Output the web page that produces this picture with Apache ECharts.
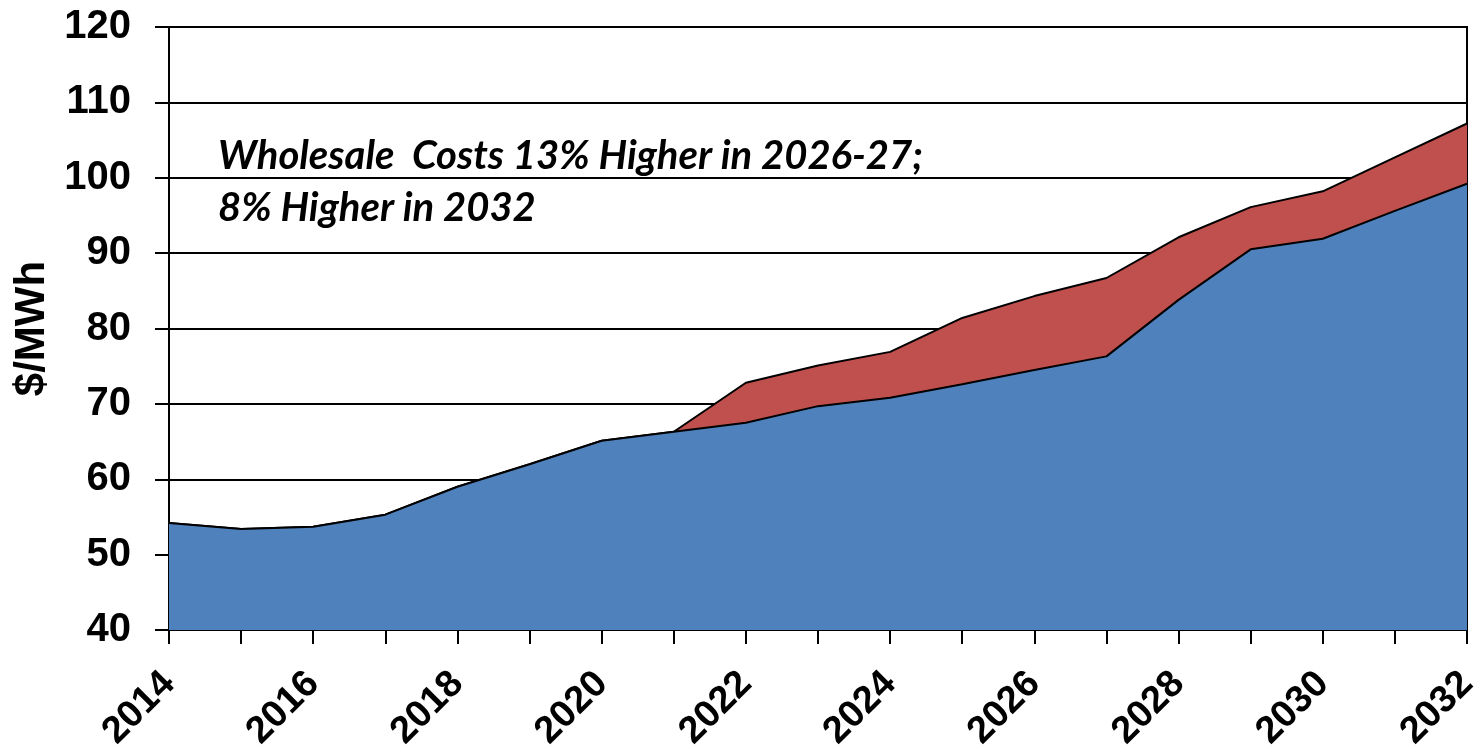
<!DOCTYPE html>
<html>
<head>
<meta charset="utf-8">
<script src="https://cdn.jsdelivr.net/npm/echarts@6/dist/echarts.min.js"></script>
<style>
  html, body { margin: 0; padding: 0; background: #fff; }
  #chart { width: 1479px; height: 751px; }
</style>
</head>
<body>
<div id="chart"></div>
<script>
// Years on the horizontal axis
const years = ['2014','2015','2016','2017','2018','2019','2020','2021','2022','2023',
               '2024','2025','2026','2027','2028','2029','2030','2031','2032'];

// Base wholesale cost, $/MWh
const baseCost = [54.2, 53.4, 53.7, 55.3, 59.0, 62.0, 65.1, 66.3, 67.5, 69.7,
                  70.8, 72.6, 74.5, 76.3, 83.8, 90.5, 91.9, 95.6, 99.2];

// Higher-cost case, $/MWh (same as base through 2021)
const higherCost = [54.2, 53.4, 53.7, 55.3, 59.0, 62.0, 65.1, 66.3, 72.8, 75.1,
                    76.9, 81.4, 84.3, 86.7, 92.1, 96.1, 98.2, 102.7, 107.2];

const yMin = 40, yMax = 120, yStep = 10;
const noteLines = ['Wholesale  Costs 13% Higher in 2026-27;', '8% Higher in 2032'];

const chart = echarts.init(document.getElementById('chart'));
const labelFont = { fontFamily: 'Liberation Sans, Arial, sans-serif', fontWeight: 'bold', color: '#000' };
const noteFont = 'italic bold 40px Lato, "Open Sans", sans-serif';

chart.setOption({
  animation: false,
  backgroundColor: '#fff',
  grid: {
    left: 169, right: 12, top: 27, bottom: 121,
    outerBoundsMode: 'none', containLabel: false,
    show: true, borderColor: '#000', borderWidth: 2, backgroundColor: 'transparent'
  },
  xAxis: {
    type: 'category',
    data: years,
    boundaryGap: false,
    axisLine: { lineStyle: { color: '#000', width: 2 } },
    axisTick: { show: true, interval: 0, length: 14, lineStyle: { color: '#000', width: 2 } },
    axisLabel: Object.assign({ interval: 1, rotate: 45, fontSize: 38, margin: 48 }, labelFont),
    splitLine: { show: false }
  },
  yAxis: {
    type: 'value',
    min: yMin, max: yMax, interval: yStep,
    name: '$/MWh',
    nameLocation: 'middle',
    nameGap: 114,
    nameRotate: 90,
    nameTextStyle: Object.assign({ fontSize: 42 }, labelFont),
    axisLine: { show: true, lineStyle: { color: '#000', width: 2 } },
    axisTick: { show: true, length: 14, lineStyle: { color: '#000', width: 2 } },
    axisLabel: Object.assign({ fontSize: 40, margin: 38 }, labelFont),
    splitLine: { show: true, lineStyle: { color: '#000', width: 2 } }
  },
  series: [
    {
      name: 'Higher',
      type: 'line',
      data: higherCost,
      symbol: 'none',
      z: 2,
      lineStyle: { color: '#000', width: 2 },
      areaStyle: { color: '#C0504D', opacity: 1 }
    },
    {
      name: 'Base',
      type: 'line',
      data: baseCost,
      symbol: 'none',
      z: 3,
      lineStyle: { color: '#000', width: 2 },
      areaStyle: { color: '#4F81BD', opacity: 1 }
    }
  ],
  graphic: [
    {
      type: 'text', left: 218, top: 136, z: 10,
      style: { text: noteLines[0], font: noteFont, fill: '#000' }
    },
    {
      type: 'text', left: 218, top: 188, z: 10,
      style: { text: noteLines[1], font: noteFont, fill: '#000' }
    }
  ]
});
</script>
</body>
</html>
